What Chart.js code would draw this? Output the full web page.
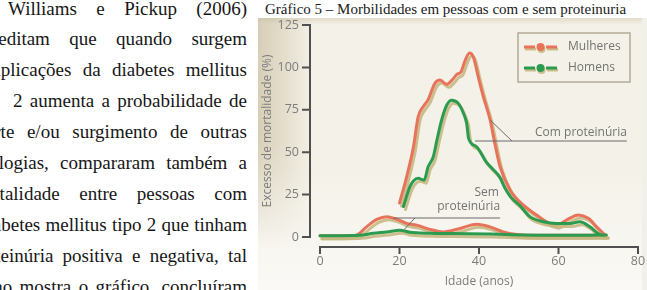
<!DOCTYPE html>
<html>
<head>
<meta charset="utf-8">
<script src="https://cdn.jsdelivr.net/npm/chart.js@4.4.0/dist/chart.umd.min.js"></script>
<style>
  html, body { margin:0; padding:0; background:#fff; }
  body { width:647px; height:290px; position:relative; overflow:hidden; }
  .linha { position:absolute; display:flex; justify-content:space-between; font-family:'Liberation Serif','Times New Roman',serif; font-size:19px; line-height:19px; height:19px; color:#161616; white-space:nowrap; }
  #titulo { position:absolute; left:265px; top:2px; font-family:'Liberation Serif','Times New Roman',serif; font-size:15px; line-height:15px; color:#1a1a1a; white-space:nowrap; }
  #painel { position:absolute; left:258px; top:18px; width:384px; height:272px;
    background:
      linear-gradient(to bottom, rgba(255,255,255,0) 55%, rgba(255,255,255,0.6) 100%),
      linear-gradient(to bottom, #e2dccc 0px, rgba(242,238,229,0) 7px),
      #f4f1e8; }
  #sombra { position:absolute; left:258px; top:18px; width:60px; height:272px;
    background: linear-gradient(to right, rgba(196,184,152,0.6) 0px, rgba(196,184,152,0.35) 25px, rgba(196,184,152,0) 55px);
    -webkit-mask-image: linear-gradient(to bottom, #000 0%, #000 45%, transparent 85%);
    mask-image: linear-gradient(to bottom, #000 0%, #000 45%, transparent 85%); }
  #borda { position:absolute; left:642px; top:18px; width:5px; height:272px; background:#f1f0ea; }
  #grafico { position:absolute; left:258px; top:14px; }
</style>
</head>
<body>
<div id="texto"></div>
<div id="titulo">Gráfico 5 – Morbilidades em pessoas com e sem proteinuria</div>
<div id="painel"></div>
<div id="sombra"></div>
<div id="borda"></div>
<canvas id="grafico" width="389" height="276"></canvas>
<script>
  // texto ao lado do gráfico (linhas cortadas à esquerda como no original)
  const linhas = [
    'Williams e Pickup (2006)',
    'acreditam que quando surgem',
    'complicações da diabetes mellitus',
    '2 aumenta a probabilidade de',
    'morte e/ou surgimento de outras',
    'patologias, compararam também a',
    'mortalidade entre pessoas com',
    'diabetes mellitus tipo 2 que tinham',
    'proteinúria positiva e negativa, tal',
    'como mostra o gráfico, concluíram'
  ];
  const inicioLinha = [8, -25, -32, 13, -30, -34, -31, -22, -30, -30];

  // Mulheres com proteinúria
  const idadeMulheresCom = [20, 21.8, 23.5, 24.7, 26, 27.2, 28.9, 30.2, 31.9, 33.2, 34.5, 35.5, 36.5, 37.6, 38.6, 39.8, 41.1, 42.8, 44, 45.3, 47.8, 51.1, 54.5, 57, 59.5, 62, 65, 67.5, 69.6, 71.7];
  const mulheresCom      = [20, 35.5, 53, 71, 77, 81, 90.6, 92.5, 90, 92.5, 96, 97.5, 104, 108.5, 106, 94.5, 82.7, 69, 55, 41.4, 27.7, 18.9, 13, 9, 7, 10, 13, 11, 6, 1.2];
  // Homens com proteinúria
  const idadeHomensCom = [21, 22.6, 23.5, 24.7, 26.2, 27.2, 28.5, 29.4, 30.6, 31.9, 33.1, 34.8, 36.1, 36.9, 37.4, 39.4, 41.9, 43.5, 45.3, 46.5, 48, 50.3, 52.8, 56.2, 59.5, 62.9, 65.4, 67.9, 70, 71];
  const homensCom      = [18, 29.6, 33, 34.6, 33.5, 41.4, 47.3, 57, 69, 77.8, 80.7, 78.8, 72.9, 67, 58, 53.2, 44, 40, 35, 29, 23.5, 18.5, 12, 9, 8, 8, 9, 6, 2, 1];
  // Mulheres sem proteinúria
  const idadeMulheresSem = [0, 5, 9, 11.7, 14.3, 16.8, 19.3, 21.8, 24.3, 27.7, 31, 35.2, 39.4, 42.8, 46.1, 49.5, 55, 62, 68, 72];
  const mulheresSem      = [0.8, 0.8, 1, 6, 10.4, 12, 10.5, 8, 7, 4.5, 3, 5, 7.5, 6, 3, 1.5, 1, 1, 1, 1];
  // Homens sem proteinúria
  const idadeHomensSem = [0, 5, 10, 13.4, 16.8, 20.1, 22.6, 27.7, 33, 42.8, 51, 59, 66, 72];
  const homensSem      = [0.8, 0.8, 1, 2.2, 3, 4, 2.8, 2.2, 2, 1.8, 1.2, 1, 1, 1.2];

  const ticksX = [0, 20, 40, 60, 80];
  const ticksY = [0, 25, 50, 75, 100, 125];

  const corMulheres = '#e8735b';
  const corHomens = '#2b9b4f';
  const corTexto = '#7c7c7c';
  const fonteTicks = { family: "'Open Sans', sans-serif", size: 12.5, weight: 'normal' };
  const fonte = { family: "'Open Sans', sans-serif", size: 12, weight: 'normal' };

  const caixa = document.getElementById('texto');
  linhas.forEach((txt, i) => {
    const d = document.createElement('div');
    d.className = 'linha';
    d.style.left = inicioLinha[i] + 'px';
    d.style.width = (247 - inicioLinha[i]) + 'px';
    d.style.top = Math.round(14.5 + 30.9 * i - 16) + 'px';
    d.innerHTML = txt.split(' ').map(p => `<span>${p}</span>`).join('');
    caixa.appendChild(d);
  });

  const pontos = (xs, ys) => xs.map((x, i) => ({ x, y: ys[i] }));

  // eixos deslocados da área do gráfico, como no livro
  const eixos = {
    id: 'eixos',
    beforeDatasetsDraw(chart) {
      const { ctx, scales: { x, y } } = chart;
      const ax = x.getPixelForValue(0) - 10;
      const ay = y.getPixelForValue(0) + 10;
      ctx.save();
      ctx.strokeStyle = '#505050';
      ctx.lineWidth = 2;
      ctx.beginPath();
      ctx.moveTo(ax, y.getPixelForValue(125) - 1);
      ctx.lineTo(ax, y.getPixelForValue(0) + 1);
      ticksY.forEach(v => { const p = y.getPixelForValue(v); ctx.moveTo(ax - 8, p); ctx.lineTo(ax + 1, p); });
      ctx.moveTo(x.getPixelForValue(0) - 1, ay);
      ctx.lineTo(x.getPixelForValue(80) + 1, ay);
      ticksX.forEach(v => { const p = x.getPixelForValue(v); ctx.moveTo(p, ay - 1); ctx.lineTo(p, ay + 7); });
      ctx.stroke();
      ctx.restore();
    }
  };

  // sombra bege deslocada das curvas
  const sombra = {
    id: 'sombra',
    beforeDatasetDraw(chart) {
      const ctx = chart.ctx;
      ctx.save();
      ctx.shadowColor = 'rgba(200,184,130,0.9)';
      ctx.shadowOffsetX = 2;
      ctx.shadowOffsetY = 3;
      ctx.shadowBlur = 0;
    },
    afterDatasetDraw(chart) { chart.ctx.restore(); }
  };

  // legenda em caixa e rótulos com linhas de chamada
  const anotacoes = {
    id: 'anotacoes',
    afterDatasetsDraw(chart) {
      const { ctx, chartArea: ca, scales: { x, y } } = chart;
      ctx.save();
      ctx.font = `12px 'Open Sans', sans-serif`;
      ctx.fillStyle = '#737373';
      ctx.textBaseline = 'middle';
      ctx.textAlign = 'right';
      ctx.fillText('Com proteinúria', x.getPixelForValue(77.2), y.getPixelForValue(61.5));
      ctx.fillText('Sem', x.getPixelForValue(45), y.getPixelForValue(26));
      ctx.fillText('proteinúria', x.getPixelForValue(45.3), y.getPixelForValue(17.7));

      ctx.strokeStyle = '#6a6a6a';
      ctx.lineWidth = 1;
      ctx.beginPath();
      ctx.moveTo(x.getPixelForValue(39), y.getPixelForValue(56.6));
      ctx.lineTo(x.getPixelForValue(77.2), y.getPixelForValue(56.6));
      ctx.moveTo(x.getPixelForValue(42.8), y.getPixelForValue(69));
      ctx.lineTo(x.getPixelForValue(48.3), y.getPixelForValue(56.6));
      ctx.moveTo(x.getPixelForValue(18.4), y.getPixelForValue(11.2));
      ctx.lineTo(x.getPixelForValue(45.3), y.getPixelForValue(11.2));
      ctx.moveTo(x.getPixelForValue(23.9), y.getPixelForValue(11.2));
      ctx.lineTo(x.getPixelForValue(21.2), y.getPixelForValue(4.5));
      ctx.stroke();

      // caixa da legenda
      const bx = ca.right - 120, by = ca.top + 8, bw = 112, bh = 49;
      ctx.strokeStyle = '#b3ab95';
      ctx.lineWidth = 1.5;
      ctx.strokeRect(bx, by, bw, bh);
      const itens = [['Mulheres', corMulheres], ['Homens', corHomens]];
      itens.forEach(([nome, cor], i) => {
        const cy = by + 14 + i * 21;
        ctx.save();
        ctx.shadowColor = 'rgba(200,184,130,0.9)';
        ctx.shadowOffsetX = 1;
        ctx.shadowOffsetY = 2;
        ctx.strokeStyle = cor;
        ctx.fillStyle = cor;
        ctx.lineWidth = 3;
        ctx.beginPath();
        ctx.moveTo(bx + 6, cy); ctx.lineTo(bx + 17, cy);
        ctx.moveTo(bx + 28, cy); ctx.lineTo(bx + 39, cy);
        ctx.stroke();
        ctx.beginPath();
        ctx.arc(bx + 22.5, cy, 4, 0, Math.PI * 2);
        ctx.fill();
        ctx.restore();
        ctx.fillStyle = '#737373';
        ctx.textAlign = 'left';
        ctx.fillText(nome, bx + 50, cy);
      });
      ctx.restore();
    }
  };

  new Chart(document.getElementById('grafico'), {
    type: 'line',
    data: {
      datasets: [
        { label: 'Homens sem proteinúria', data: pontos(idadeHomensSem, homensSem), borderColor: corHomens },
        { label: 'Homens com proteinúria', data: pontos(idadeHomensCom, homensCom), borderColor: corHomens },
        { label: 'Mulheres sem proteinúria', data: pontos(idadeMulheresSem, mulheresSem), borderColor: corMulheres },
        { label: 'Mulheres com proteinúria', data: pontos(idadeMulheresCom, mulheresCom), borderColor: corMulheres }
      ]
    },
    options: {
      responsive: false,
      animation: false,
      clip: false,
      layout: { padding: { top: 11, right: 9, left: 0, bottom: 0 } },
      elements: {
        point: { radius: 0 },
        line: { borderWidth: 3, cubicInterpolationMode: 'monotone', borderCapStyle: 'round', borderJoinStyle: 'round', fill: false }
      },
      plugins: { legend: { display: false }, tooltip: { enabled: false } },
      scales: {
        x: {
          type: 'linear', min: 0, max: 80,
          afterFit(s) { s.height = 53; },
          afterBuildTicks(s) { s.ticks = ticksX.map(v => ({ value: v })); },
          grid: { display: false, drawTicks: true, tickLength: 17 },
          border: { display: false },
          ticks: { color: corTexto, font: fonteTicks, padding: 0, maxRotation: 0 },
          title: { display: true, text: 'Idade (anos)', color: corTexto, font: fonte, padding: { top: 0, bottom: 1 } }
        },
        y: {
          type: 'linear', min: 0, max: 125,
          afterFit(s) { s.width = 62; },
          afterBuildTicks(s) { s.ticks = ticksY.map(v => ({ value: v })); },
          grid: { display: false, drawTicks: true, tickLength: 21 },
          border: { display: false },
          ticks: { color: corTexto, font: fonteTicks, padding: 0 },
          title: { display: true, text: 'Excesso de mortalidade (%)', color: corTexto, font: fonte, padding: { top: 2, bottom: 0 } }
        }
      }
    },
    plugins: [eixos, sombra, anotacoes]
  });
</script>
</body>
</html>
